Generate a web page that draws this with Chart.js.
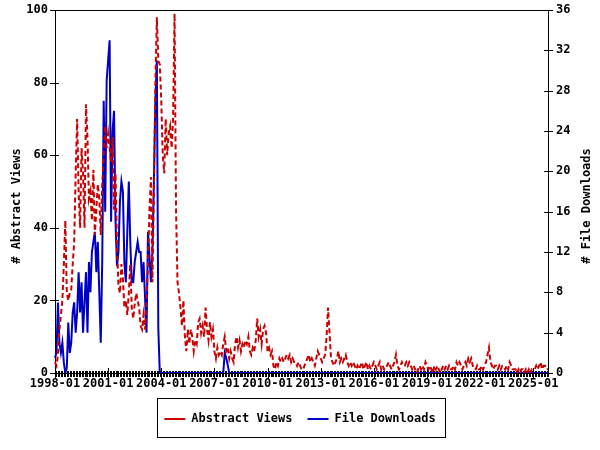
<!DOCTYPE html>
<html><head><meta charset="utf-8">
<script src="https://cdn.jsdelivr.net/npm/chart.js@4.4.1/dist/chart.umd.min.js"></script>
<style>html,body{margin:0;padding:0;background:#fff;}canvas{display:block;}</style>
</head><body>
<canvas id="c" width="600" height="450"></canvas>
<script>
// ---- data (monthly, starting 1998-01) ----
const startYear = 1998;
const abstractViews = [
  3,2,5,12,16,20,30,42,22,20,22,23,
  30,36,55,70,50,40,62,55,40,74,65,48,
  50,42,56,38,45,52,48,38,52,60,68,62,
  66,62,58,65,45,55,35,24,22,30,26,18,
  20,16,22,30,18,15,19,22,20,18,13,12,
  16,12,20,30,45,54,25,50,80,98,86,85,
  75,60,55,70,60,66,68,62,70,99,45,25,
  22,18,13,20,10,6,12,8,12,10,6,9,
  8,14,15,11,13,10,18,12,9,14,10,12,
  6,4,7,5,6,5,8,10,6,7,4,6,
  4,3,8,10,7,9,6,8,7,9,8,10,
  6,5,7,6,9,15,10,12,8,12,13,11,
  6,7,5,6,2,1,3,2,4,3,4,3,
  4,5,4,5,3,4,3,3,2,3,2,1,
  1,2,3,4,5,3,4,3,2,4,6,5,
  4,3,4,5,10,18,11,4,3,2,3,4,
  6,3,4,3,4,5,3,2,3,2,3,2,
  1,2,1,2,3,1,2,3,1,2,1,2,
  3,2,1,2,3,1,2,1,2,2,3,2,
  1,2,3,5,2,1,2,3,2,2,3,2,
  3,2,1,2,1,0,1,2,1,2,1,3,
  2,1,2,1,0,2,1,2,1,0,1,2,
  1,2,1,2,1,1,2,1,3,2,3,2,
  1,2,3,2,4,3,4,2,1,1,2,1,
  1,2,1,2,3,5,7,3,2,1,2,2,
  1,2,1,2,2,1,2,1,3,2,1,1,
  1,0,1,0,1,1,0,1,0,1,0,1,
  1,1,2,1,2,3,1,2,2,1,1
];
const fileDownloads = [
  1.5,2,7,3,2,3,1,0,0.5,5,2,3,
  6,7,4,6,10,6,9,4,7,10,4,11,
  8,12,13,14,10,13,8,3,11,27,16,29,
  31,33,15,24,26,15,10.6,12,17,19,18,11,
  9,14,19,13,9,9,11,12,13,12,12,9,
  11,7.5,4,14,11.6,9,12,19,27,31,4.4,0,
  0,0,0,0,0,0,0,0,0,0,0,0,
  0,0,0,0,0,0,0,0,0,0,0,0,
  0,0,0,0,0,0,0,0,0,0,0,0,
  0,0,0,0,0,0,0,2,1.5,0.8,0,0,
  0,0,0,0,0,0,0,0,0,0,0,0,
  0,0,0,0,0,0,0,0,0,0,0,0,
  0,0,0,0,0,0,0,0,0,0,0,0,
  0,0,0,0,0,0,0,0,0,0,0,0,
  0,0,0,0,0,0,0,0,0,0,0,0,
  0,0,0,0,0,0,0,0,0,0,0,0,
  0,0,0,0,0,0,0,0,0,0,0,0,
  0,0,0,0,0,0,0,0,0,0,0,0,
  0,0,0,0,0,0,0,0,0,0,0,0,
  0,0,0,0,0,0,0,0,0,0,0,0,
  0,0,0,0,0,0,0,0,0,0,0,0,
  0,0,0,0,0,0,0,0,0,0,0,0,
  0,0,0,0,0,0,0,0,0,0,0,0,
  0,0,0,0,0,0,0,0,0,0,0,0,
  0,0,0,0,0,0,0,0,0,0,0,0,
  0,0,0,0,0,0,0,0,0,0,0,0,
  0,0,0,0,0,0,0,0,0,0,0,0,
  0,0,0,0,0,0,0,0,0,0,0
];
const xTickLabels = ['1998-01','2001-01','2004-01','2007-01','2010-01','2013-01','2016-01','2019-01','2022-01','2025-01'];
const leftTicks = [0,20,40,60,80,100];
const rightTicks = [0,4,8,12,16,20,24,28,32,36];
const seriesNames = ['Abstract Views','File Downloads'];
const axisTitles = ['# Abstract Views','# File Downloads'];

const months = abstractViews.map((_, i) => {
  const y = startYear + Math.floor(i / 12), m = (i % 12) + 1;
  return y + '-' + (m < 10 ? '0' + m : m);
});

const FONT = "'DejaVu Sans Mono', monospace";
const RED = '#cc0000', BLUE = '#0000c4';

const decoPlugin = {
  id: 'deco',
  beforeDatasetsDraw(chart) {
    const {ctx, chartArea: a, scales} = chart;
    ctx.save();
    ctx.strokeStyle = '#000';
    ctx.lineWidth = 1;
    ctx.strokeRect(a.left + 0.5, a.top + 0.5, a.right - a.left, a.bottom - a.top);
    months.forEach((m, i) => {
      const px = Math.round(scales.x.getPixelForValue(i)) + 0.5;
      const major = xTickLabels.includes(m);
      ctx.beginPath();
      ctx.moveTo(px, a.bottom - (major ? 5 : 2));
      ctx.lineTo(px, a.bottom + (major ? 6 : 4));
      ctx.stroke();
    });
    leftTicks.forEach(v => {
      const py = Math.round(scales.y.getPixelForValue(v)) + 0.5;
      ctx.beginPath(); ctx.moveTo(a.left - 5, py); ctx.lineTo(a.left + 4, py); ctx.stroke();
    });
    rightTicks.forEach(v => {
      const py = Math.round(scales.y1.getPixelForValue(v)) + 0.5;
      ctx.beginPath(); ctx.moveTo(a.right - 4, py); ctx.lineTo(a.right + 5, py); ctx.stroke();
    });
    ctx.restore();
  },
  afterDraw(chart) {
    const {ctx} = chart;
    ctx.save();
    ctx.fillStyle = '#000';
    ctx.font = "bold 12px " + FONT;
    ctx.textAlign = 'center';
    ctx.textBaseline = 'middle';
    const cy = 206;
    ctx.translate(17, cy); ctx.rotate(-Math.PI / 2); ctx.fillText(axisTitles[0], 0, 0);
    ctx.setTransform(1,0,0,1,0,0);
    ctx.translate(587, cy); ctx.rotate(-Math.PI / 2); ctx.fillText(axisTitles[1], 0, 0);
    ctx.setTransform(1,0,0,1,0,0);
    const hb = chart.legend.legendHitBoxes;
    if (hb && hb.length) {
      const l = hb[0].left - 7;
      const last = hb[hb.length - 1];
      const r = last.left + last.width + 10;
      const midY = hb[0].top + hb[0].height / 2;
      ctx.strokeStyle = '#000';
      ctx.lineWidth = 1;
      ctx.strokeRect(Math.round(l) + 0.5, Math.round(midY - 21) + 0.5, Math.round(r - l), 39);
    }
    ctx.restore();
  }
};

const tickFont = { family: FONT, size: 12, weight: 'bold' };
new Chart(document.getElementById('c'), {
  type: 'line',
  data: {
    labels: months,
    datasets: [
      { label: seriesNames[0], data: abstractViews, yAxisID: 'y', borderColor: RED, backgroundColor: RED,
        borderWidth: 2, borderDash: [5, 3], pointRadius: 0, pointStyle: 'line', tension: 0, fill: false },
      { label: seriesNames[1], data: fileDownloads, yAxisID: 'y1', borderColor: BLUE, backgroundColor: BLUE,
        borderWidth: 2, pointRadius: 0, pointStyle: 'line', tension: 0, fill: false }
    ]
  },
  options: {
    responsive: false,
    animation: false,
    devicePixelRatio: 1,
    layout: { padding: { top: 10, left: 0, right: 0, bottom: 15 } },
    plugins: {
      tooltip: { enabled: false },
      legend: {
        position: 'bottom',
        labels: {
          font: tickFont, color: '#000',
          usePointStyle: true, pointStyle: 'line', pointStyleWidth: 21,
          boxHeight: 12, padding: 15
        }
      }
    },
    scales: {
      x: {
        type: 'category', offset: false,
        grid: { display: false, drawTicks: false },
        border: { display: false },
        ticks: {
          autoSkip: false, maxRotation: 0, minRotation: 0, padding: 4,
          color: '#000', font: tickFont,
          callback: (v, i) => xTickLabels.includes(months[i]) ? months[i] : null
        },
        afterFit: s => { s.height = 25; }
      },
      y: {
        position: 'left', min: 0, max: 100,
        grid: { display: false, drawTicks: false },
        border: { display: false },
        ticks: { stepSize: 20, padding: 7, color: '#000', font: tickFont },
        afterFit: s => { s.width = 55; s.paddingTop = 0; s.paddingBottom = 0; }
      },
      y1: {
        position: 'right', min: 0, max: 36,
        grid: { display: false, drawTicks: false },
        border: { display: false },
        ticks: { stepSize: 4, padding: 8, color: '#000', font: tickFont },
        afterFit: s => { s.width = 52; s.paddingTop = 0; s.paddingBottom = 0; }
      }
    }
  },
  plugins: [decoPlugin]
});
</script>
</body></html>
